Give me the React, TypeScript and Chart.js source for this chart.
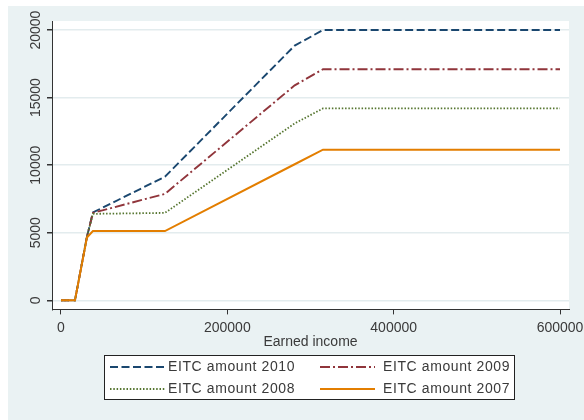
import React, { useEffect, useRef } from "react";
import { Chart, registerables } from "chart.js";

Chart.register(...registerables);

// ---- Data ----
const income = [0, 16800, 31200, 38400, 125000, 281000, 315000, 600000];
const eitc2010 = [0, 0, 4700, 6500, 9150, 18850, 20000, 20000];
const eitc2009 = [0, 0, 4700, 6470, 7880, 15910, 17100, 17100];
const eitc2008 = [0, 0, 4700, 6400, 6470, 13090, 14200, 14200];
const eitc2007 = [0, 0, 4650, 5130, 5130, 10070, 11150, 11150];

const xTicks = [0, 200000, 400000, 600000];
const yTicks = [0, 5000, 10000, 15000, 20000];

const seriesLabels = ["EITC amount 2010", "EITC amount 2009", "EITC amount 2008", "EITC amount 2007"];
const xTitle = "Earned income";

// ---- Styles ----
const BG = "#eaf2f3";
const GRID = "#e3ecee";
const AXIS = "#333333";
const TEXT = "#3a3a3a";
const FONT_FAMILY = '"Liberation Sans", Arial, sans-serif';

const COLORS = ["#1a476f", "#90353b", "#55752f", "#e37e00"];
const DASHES: number[][] = [[8, 3.5], [10, 3, 2, 3], [1.5, 1.8], []];
const WIDTHS = [1.9, 1.9, 1.8, 2];

const bgPlugin = {
  id: "bgPlugin",
  beforeDraw(chart: any) {
    const { ctx, chartArea, width, height } = chart;
    ctx.save();
    ctx.fillStyle = BG;
    ctx.fillRect(0, 0, width, height);
    ctx.fillStyle = "#ffffff";
    ctx.fillRect(chartArea.left, chartArea.top, chartArea.right - chartArea.left, chartArea.bottom - chartArea.top);
    ctx.restore();
  },
};

const yLabelPlugin = {
  id: "yLabelPlugin",
  afterDraw(chart: any) {
    const { ctx } = chart;
    const s = chart.scales.y;
    ctx.save();
    ctx.font = `14px ${FONT_FAMILY}`;
    ctx.fillStyle = TEXT;
    ctx.textAlign = "center";
    ctx.textBaseline = "middle";
    s.ticks.forEach((t: any) => {
      const y = s.getPixelForValue(t.value);
      ctx.save();
      ctx.translate(s.right - 16, y);
      ctx.rotate(-Math.PI / 2);
      ctx.fillText(String(t.value), 0, 0);
      ctx.restore();
    });
    ctx.restore();
  },
};

const legendPlugin = {
  id: "legendPlugin",
  afterDraw(chart: any) {
    const { ctx } = chart;
    const boxL = 96, boxT = 349, boxW = 410, boxH = 44;
    ctx.save();
    ctx.fillStyle = "#ffffff";
    ctx.fillRect(boxL, boxT, boxW, boxH);
    ctx.strokeStyle = "#222222";
    ctx.lineWidth = 1;
    ctx.strokeRect(boxL + 0.5, boxT + 0.5, boxW, boxH);
    const cols = [boxL + 6, boxL + 216];
    const rows = [boxT + 12, boxT + 34];
    ctx.font = `14px ${FONT_FAMILY}`;
    (ctx as any).letterSpacing = "0.6px";
    ctx.textBaseline = "middle";
    ctx.textAlign = "left";
    seriesLabels.forEach((lab, i) => {
      const cx = cols[i % 2];
      const cy = rows[Math.floor(i / 2)];
      ctx.beginPath();
      ctx.setLineDash(DASHES[i]);
      ctx.strokeStyle = COLORS[i];
      ctx.lineWidth = WIDTHS[i];
      ctx.moveTo(cx, cy);
      ctx.lineTo(cx + 55, cy);
      ctx.stroke();
      ctx.setLineDash([]);
      ctx.fillStyle = TEXT;
      ctx.fillText(lab, cx + (i % 2 === 0 ? 58 : 63), cy);
    });
    ctx.restore();
  },
};

export default function App() {
  const ref = useRef<HTMLCanvasElement | null>(null);

  useEffect(() => {
    if (!ref.current) return;
    const series = [eitc2010, eitc2009, eitc2008, eitc2007];
    const chart = new Chart(ref.current, {
      type: "line",
      data: {
        datasets: series.map((vals, i) => ({
          label: seriesLabels[i],
          data: income.map((x, j) => ({ x, y: vals[j] })),
          borderColor: COLORS[i],
          borderWidth: WIDTHS[i],
          borderDash: DASHES[i],
          pointRadius: 0,
          fill: false,
          tension: 0,
          order: 3 - i,
        })),
      },
      options: {
        animation: false,
        responsive: false,
        devicePixelRatio: 1,
        layout: { padding: { left: 8, top: 15, right: 15, bottom: 69 } },
        plugins: { legend: { display: false }, tooltip: { enabled: false } },
        scales: {
          x: {
            type: "linear",
            min: -10800,
            max: 610800,
            afterBuildTicks: (s: any) => {
              s.ticks = xTicks.map((v) => ({ value: v }));
            },
            afterFit: (s: any) => {
              s.paddingLeft = 0;
              s.paddingRight = 0;
            },
            ticks: {
              callback: (v: any) => String(v),
              color: TEXT,
              font: { family: FONT_FAMILY, size: 14 },
              padding: 5,
              maxRotation: 0,
              autoSkip: false,
            },
            grid: { drawOnChartArea: false, drawTicks: true, tickLength: 5, tickColor: AXIS, lineWidth: 1 },
            border: { color: AXIS, width: 1 },
            title: {
              display: true,
              text: xTitle,
              color: TEXT,
              font: { family: FONT_FAMILY, size: 14 },
              padding: { top: -7, bottom: 0 },
            },
          },
          y: {
            type: "linear",
            min: -670,
            max: 20670,
            afterBuildTicks: (s: any) => {
              s.ticks = yTicks.map((v) => ({ value: v }));
            },
            afterFit: (s: any) => {
              s.width = 36;
            },
            ticks: { display: false },
            grid: { color: GRID, lineWidth: 1.5, tickLength: 5, tickColor: AXIS, drawTicks: true },
            border: { color: AXIS, width: 1 },
          },
        },
      },
      plugins: [bgPlugin, yLabelPlugin, legendPlugin],
    } as any);
    return () => chart.destroy();
  }, []);

  return (
    <div style={{ position: "absolute", left: 8, top: 6, width: 576, height: 414 }}>
      <canvas ref={ref} width={576} height={414} style={{ width: 576, height: 414, display: "block" }} />
    </div>
  );
}
